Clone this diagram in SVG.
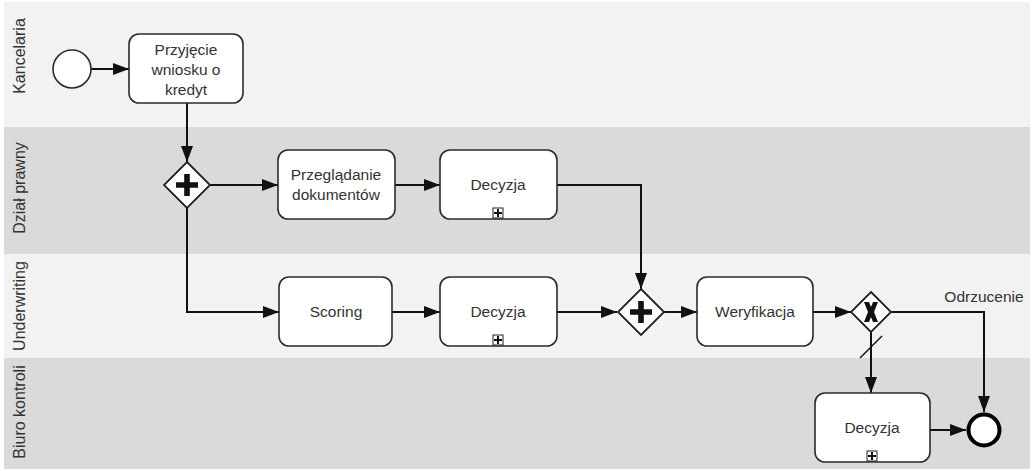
<svg xmlns="http://www.w3.org/2000/svg" width="1034" height="471" viewBox="0 0 1034 471">
  <style>
    .lane-light { fill: #f2f2f2; }
    .lane-dark { fill: #dadada; }
    .lane-label { font-family: "Liberation Sans", Arial, sans-serif; font-size: 16px; fill: #333; text-anchor: middle; }
    .task { fill: #ffffff; stroke: #2b2b2b; stroke-width: 1.6; }
    .label { font-family: "Liberation Sans", Arial, sans-serif; font-size: 15.5px; fill: #333; text-anchor: middle; }
    .gateway { fill: #ffffff; stroke: #222; stroke-width: 1.8; }
    .flow { fill: none; stroke: #111; stroke-width: 2; }
    .sub { fill: #ffffff; stroke: #222; stroke-width: 1; }
  </style>
  <defs>
    <marker id="arrow" viewBox="0 0 16 12" refX="16" refY="6" markerWidth="16" markerHeight="12" markerUnits="userSpaceOnUse" orient="auto">
      <path d="M0,0 L16,6 L0,12 Z" fill="#111"/>
    </marker>
    <!-- collapsed sub-process marker -->
    <g id="subMarker">
      <rect class="sub" x="-5" y="-5" width="10" height="10"/>
      <path d="M0,-4 V4 M-4,0 H4" stroke="#111" stroke-width="2"/>
    </g>
    <!-- parallel gateway cross -->
    <path id="plus" d="M-2.8,-11 H2.8 V-2.8 H11 V2.8 H2.8 V11 H-2.8 V2.8 H-11 V-2.8 H-2.8 Z" fill="#111"/>
  </defs>

  <!-- swimlanes -->
  <g id="lanes">
    <rect class="lane-light" x="4" y="2" width="1026" height="125"/>
    <rect class="lane-dark" x="4" y="127" width="1026" height="127"/>
    <rect class="lane-light" x="4" y="254" width="1026" height="104"/>
    <rect class="lane-dark" x="4" y="358" width="1026" height="111"/>
    <text class="lane-label" transform="translate(25,56) rotate(-90)">Kancelaria</text>
    <text class="lane-label" transform="translate(25,188) rotate(-90)">Dział prawny</text>
    <text class="lane-label" transform="translate(25,306) rotate(-90)">Underwriting</text>
    <text class="lane-label" transform="translate(25,412) rotate(-90)">Biuro kontroli</text>
  </g>

  <!-- sequence flows -->
  <g id="connectors">
    <path class="flow" d="M91,69 H129" marker-end="url(#arrow)"/>
    <path class="flow" d="M187,103 V162" marker-end="url(#arrow)"/>
    <path class="flow" d="M209,185 H278" marker-end="url(#arrow)"/>
    <path class="flow" d="M395,185 H440" marker-end="url(#arrow)"/>
    <path class="flow" d="M557,185 H641 V289" marker-end="url(#arrow)"/>
    <path class="flow" d="M187,208 V312 H279" marker-end="url(#arrow)"/>
    <path class="flow" d="M392,312 H440" marker-end="url(#arrow)"/>
    <path class="flow" d="M557,312 H617" marker-end="url(#arrow)"/>
    <path class="flow" d="M664,312 H697" marker-end="url(#arrow)"/>
    <path class="flow" d="M813,312 H851" marker-end="url(#arrow)"/>
    <path class="flow" d="M891,312 H984 V412" marker-end="url(#arrow)"/>
    <path class="flow" d="M871,332 V393" marker-end="url(#arrow)"/>
    <path d="M860,358 L882,336" stroke="#111" stroke-width="1.5"/>
    <path class="flow" d="M930,430 H966" marker-end="url(#arrow)"/>
    <text class="label" x="984" y="302">Odrzucenie</text>
  </g>

  <g id="start">
    <circle cx="72" cy="69" r="19" fill="#fff" stroke="#2b2b2b" stroke-width="1.6"/>
  </g>

  <g id="task-przyjecie">
    <rect class="task" x="129" y="34" width="114" height="69" rx="10"/>
    <text class="label" x="186" y="55">Przyjęcie</text>
    <text class="label" x="186" y="75">wniosku o</text>
    <text class="label" x="186" y="95">kredyt</text>
  </g>

  <g id="gateway-split">
    <path class="gateway" d="M187,162 L210,185 L187,208 L164,185 Z"/>
    <use href="#plus" x="187" y="185"/>
  </g>

  <g id="task-przegladanie">
    <rect class="task" x="278" y="150" width="117" height="69" rx="10"/>
    <text class="label" x="336" y="180">Przeglądanie</text>
    <text class="label" x="336" y="200">dokumentów</text>
  </g>

  <g id="task-decyzja-prawna">
    <rect class="task" x="440" y="150" width="117" height="69" rx="10"/>
    <text class="label" x="498" y="190">Decyzja</text>
    <use href="#subMarker" x="498" y="213"/>
  </g>

  <g id="task-scoring">
    <rect class="task" x="279" y="277" width="113" height="69" rx="10"/>
    <text class="label" x="336" y="317">Scoring</text>
  </g>

  <g id="task-decyzja-underwriting">
    <rect class="task" x="440" y="277" width="117" height="69" rx="10"/>
    <text class="label" x="498" y="317">Decyzja</text>
    <use href="#subMarker" x="498" y="340"/>
  </g>

  <g id="gateway-join">
    <path class="gateway" d="M641,289 L664,312 L641,335 L618,312 Z"/>
    <use href="#plus" x="641" y="312"/>
  </g>

  <g id="task-weryfikacja">
    <rect class="task" x="697" y="277" width="116" height="69" rx="10"/>
    <text class="label" x="755" y="317">Weryfikacja</text>
  </g>

  <g id="gateway-xor">
    <path class="gateway" d="M871,292 L891,312 L871,332 L851,312 Z"/>
    <path d="M864,302 H869 L871,307 L873,302 H878 L874,312 L878,322 H873 L871,317 L869,322 H864 L868,312 Z" fill="#111"/>
  </g>

  <g id="task-decyzja-kontrola">
    <rect class="task" x="815" y="393" width="115" height="69" rx="10"/>
    <text class="label" x="872" y="433">Decyzja</text>
    <use href="#subMarker" x="872" y="456"/>
  </g>

  <g id="end">
    <circle cx="984" cy="430" r="15.5" fill="#fff" stroke="#000" stroke-width="4"/>
  </g>
</svg>
